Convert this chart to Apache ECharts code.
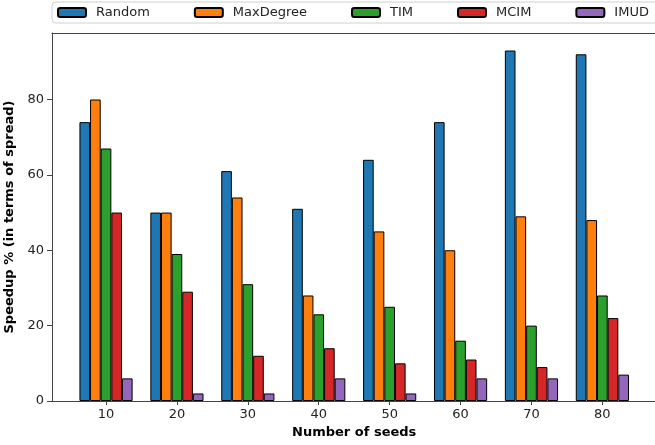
<!DOCTYPE html>
<html>
<head>
<meta charset="utf-8">
<script src="https://cdn.jsdelivr.net/npm/echarts@6/dist/echarts.min.js"></script>
<style>
  html, body { margin: 0; padding: 0; background: #fff; }
  #chart { width: 655px; height: 445px; }
</style>
</head>
<body>
<div id="chart"></div>
<script>
// Number of seeds on the x axis
const seeds = ['10', '20', '30', '40', '50', '60', '70', '80'];

// Speedup % (in terms of spread) per method
const randomVals    = [74, 50, 61, 51, 64, 74, 93, 92];
const maxDegreeVals = [80, 50, 54, 28, 45, 40, 49, 48];
const timVals       = [67, 39, 31, 23, 25, 16, 20, 28];
const mcimVals      = [50, 29, 12, 14, 10, 11, 9, 22];
const imudVals      = [6, 2, 2, 6, 2, 6, 6, 7];

const yTicks = [0, 20, 40, 60, 80];

const methods = [
  { name: 'Random',    values: randomVals,    color: '#1f77b4' },
  { name: 'MaxDegree', values: maxDegreeVals, color: '#ff7f0e' },
  { name: 'TIM',       values: timVals,       color: '#2ca02c' },
  { name: 'MCIM',      values: mcimVals,      color: '#d62728' },
  { name: 'IMUD',      values: imudVals,      color: '#9467bd' }
];

const FONT = 'DejaVu Sans';
const AXIS_COLOR = '#444';
const seedIdx = seeds.map((_, i) => i);

const chart = echarts.init(document.getElementById('chart'), null, { renderer: 'canvas' });

chart.setOption({
  animation: false,
  backgroundColor: '#fff',
  textStyle: { fontFamily: FONT },
  legend: {
    left: 52,
    top: 2,
    width: 700,
    itemWidth: 28,
    itemHeight: 9,
    itemGap: 44,
    padding: [4, 40, 4, 5],
    borderColor: '#d0d0d0',
    borderWidth: 1,
    borderRadius: 4,
    backgroundColor: '#fff',
    textStyle: { fontFamily: FONT, fontSize: 13, color: '#222', padding: [0, 0, 0, 5] },
    data: methods.map(m => m.name)
  },
  grid: {
    left: 52, right: -1.4, top: 33, bottom: 44,
    containLabel: false,
    outerBoundsMode: 'none'
  },
  xAxis: [
    {
      type: 'value',
      position: 'bottom',
      min: -0.762,
      max: 7.762,
      name: 'Number of seeds',
      nameLocation: 'middle',
      nameGap: 24,
      nameTextStyle: { fontFamily: FONT, fontSize: 13, fontWeight: 'bold', color: '#000' },
      axisLine: { show: true, onZero: false, lineStyle: { color: AXIS_COLOR, width: 1 } },
      axisTick: { show: true, length: 4, customValues: seedIdx, lineStyle: { color: AXIS_COLOR } },
      axisLabel: {
        customValues: seedIdx,
        margin: 7,
        fontFamily: FONT, fontSize: 13, color: '#222',
        formatter: v => seeds[Math.round(v)]
      },
      splitLine: { show: false }
    },
    {
      type: 'value',
      position: 'top',
      min: -0.762,
      max: 7.762,
      axisLine: { show: true, onZero: false, lineStyle: { color: AXIS_COLOR, width: 1 } },
      axisTick: { show: false },
      axisLabel: { show: false },
      splitLine: { show: false }
    }
  ],
  yAxis: {
    type: 'value',
    position: 'left',
    min: 0,
    max: 97.65,
    name: 'Speedup % (in terms of spread)',
    nameLocation: 'middle',
    nameGap: 28,
    nameTextStyle: { fontFamily: FONT, fontSize: 13, fontWeight: 'bold', color: '#000' },
    axisLine: { show: true, onZero: false, lineStyle: { color: AXIS_COLOR, width: 1 } },
    axisTick: { show: true, length: 5, customValues: yTicks, lineStyle: { color: AXIS_COLOR } },
    axisLabel: { customValues: yTicks, margin: 8, fontFamily: FONT, fontSize: 13, color: '#222' },
    splitLine: { show: false }
  },
  series: methods.map(m => ({
    name: m.name,
    type: 'bar',
    xAxisIndex: 0,
    barWidth: '15%',
    barGap: '0%',
    itemStyle: { color: m.color, borderColor: '#000', borderWidth: 1 },
    data: m.values.map((v, i) => [i, v])
  }))
});
</script>
</body>
</html>
